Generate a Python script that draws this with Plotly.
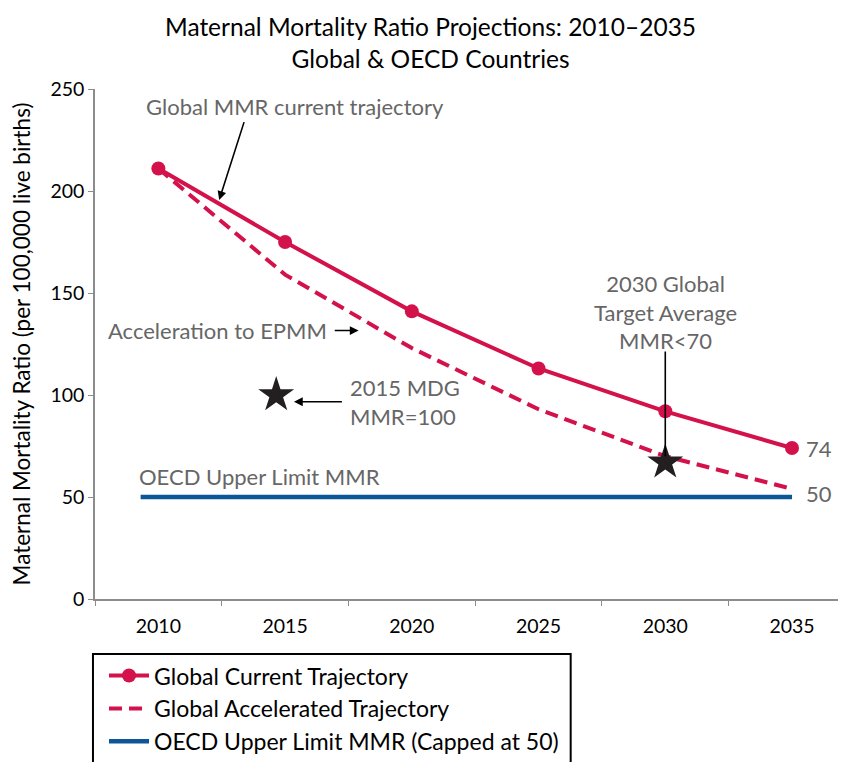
import plotly.graph_objects as go

years = [2010, 2015, 2020, 2025, 2030, 2035]
current_mmr = [211, 175, 141, 113, 92, 74]
accelerated_mmr = [211, 159, 123, 93, 70, 54]
oecd_years = [2009.3, 2035]
oecd_mmr = [50, 50]
mdg_star = {"x": [2014.65], "y": [100]}
target_star = {"x": [2030], "y": [67]}
y_ticks = [0, 50, 100, 150, 200, 250]
x_boundaries = [2007.5, 2012.5, 2017.5, 2022.5, 2027.5, 2032.5]
title_lines = ["Maternal Mortality Ratio Projections: 2010–2035", "Global & OECD Countries"]

RED = "#D3124B"
BLUE = "#0D5697"
GRAY = "#666666"
FONT = "Lato"

fig = go.Figure()
fig.add_trace(go.Scatter(
    x=years, y=accelerated_mmr, mode="lines", name="Global Accelerated Trajectory",
    line=dict(color=RED, width=4, dash="13px,7px"), legendgroup="b", legendrank=2))
fig.add_trace(go.Scatter(
    x=years, y=current_mmr, mode="lines+markers", name="Global Current Trajectory",
    line=dict(color=RED, width=4), marker=dict(color=RED, size=14),
    legendgroup="a", legendrank=1))
fig.add_trace(go.Scatter(
    x=oecd_years, y=oecd_mmr, mode="lines", name="OECD Upper Limit MMR (Capped at 50)",
    line=dict(color=BLUE, width=4.5), legendgroup="c", legendrank=3))
fig.add_trace(go.Scatter(
    x=mdg_star["x"] + target_star["x"], y=mdg_star["y"] + target_star["y"],
    mode="markers", marker=dict(symbol="star", size=27, color="#231F20"),
    showlegend=False))

ann_font = dict(family=FONT, size=22, color=GRAY)
title_font = dict(family=FONT, size=24.5, color="black")
annotations = [
    dict(xref="paper", yref="paper", x=0.447, y=1.1555, xanchor="center", yanchor="top",
         text="<br>".join(title_lines), align="center", showarrow=False, font=title_font),
    dict(x=2009.45, y=241.3, text="Global MMR current trajectory", xanchor="left",
         yanchor="middle", showarrow=False, font=ann_font),
    dict(x=2012.4, y=195.6, ax=2013.4, ay=234.5, axref="x", ayref="y", text="",
         showarrow=True, arrowhead=2, arrowsize=1.1, arrowwidth=1.6, arrowcolor="black"),
    dict(x=2016.75, y=131.5, text="Acceleration to EPMM", xanchor="right",
         yanchor="middle", showarrow=False, font=ann_font),
    dict(x=2017.9, y=131.6, ax=2016.9, ay=131.6, axref="x", ayref="y", text="",
         showarrow=True, arrowhead=2, arrowsize=1.1, arrowwidth=1.6, arrowcolor="black"),
    dict(x=2017.5, y=96.6, text="2015 MDG<br>MMR=100", xanchor="left", align="left",
         yanchor="middle", showarrow=False, font=ann_font),
    dict(x=2015.35, y=96.7, ax=2017.3, ay=96.7, axref="x", ayref="y", text="",
         showarrow=True, arrowhead=2, arrowsize=1.1, arrowwidth=1.6, arrowcolor="black"),
    dict(x=2030, y=140.7, text="2030 Global<br>Target Average<br>MMR<70", xanchor="center",
         align="center", yanchor="middle", showarrow=False, font=ann_font),
    dict(x=target_star["x"][0], y=target_star["y"][0] + 3, ax=target_star["x"][0], ay=122,
         axref="x", ayref="y", text="", showarrow=True, arrowhead=0, arrowwidth=1.6,
         arrowcolor="black", standoff=0),
    dict(x=2009.17, y=60, text="OECD Upper Limit MMR", xanchor="left", yanchor="middle",
         showarrow=False, font=ann_font),
    dict(x=years[-1], y=current_mmr[-1], text=str(current_mmr[-1]), xanchor="left",
         xshift=12, yanchor="middle", showarrow=False, font=ann_font),
    dict(x=years[-1], y=oecd_mmr[-1] + 1.5, text=str(oecd_mmr[-1]), xanchor="left",
         xshift=12, yanchor="middle", showarrow=False, font=ann_font),
]

fig.update_layout(
    width=846, height=762,
    margin=dict(l=87, r=8, t=81, b=171, autoexpand=False),
    plot_bgcolor="white", paper_bgcolor="white",
    font=dict(family=FONT, color="black"),
    xaxis=dict(range=[2007.5, 2037.13], tickvals=years, ticktext=[str(y) for y in years],
               ticks="", showgrid=False, zeroline=False, showline=True, linecolor="#8C8C8C",
               linewidth=1.5, tickfont=dict(size=19.5, color="black"), ticklabelstandoff=9,
               minor=dict(tickvals=x_boundaries, ticks="outside", ticklen=5,
                          tickcolor="#8C8C8C", tickwidth=1.2, showgrid=False)),
    yaxis=dict(range=[0, 250], tickvals=y_ticks, ticks="outside", ticklen=5,
               tickcolor="#8C8C8C", showgrid=False, zeroline=False, showline=True,
               linecolor="#8C8C8C", linewidth=1.5, tickfont=dict(size=19.5, color="black"),
               automargin=False,
               title=dict(text="Maternal Mortality Ratio (per 100,000 live births)",
                          font=dict(size=22.5, color="black"), standoff=18)),
    legend=dict(x=0.012, y=-0.108, xanchor="left", yanchor="top", traceorder="grouped",
                tracegroupgap=0, itemwidth=40, font=dict(family=FONT, size=23, color="black"),
                bgcolor="rgba(0,0,0,0)", borderwidth=0),
    annotations=annotations,
    shapes=[dict(type="rect", xref="paper", yref="paper", x0=-0.0027, x1=0.6334,
                 y0=-0.1078, y1=-0.36, line=dict(color="black", width=2))],
)

fig.write_html("out.html")
